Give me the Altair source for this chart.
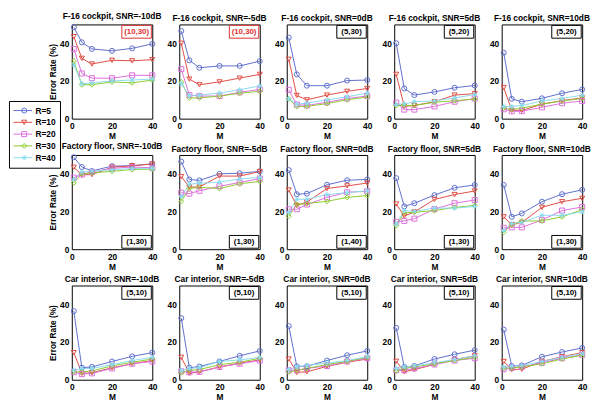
import altair as alt
import pandas as pd

FONT = "Liberation Sans"

M_VALUES = [1, 5, 10, 20, 30, 40]
R_VALUES = [5, 10, 20, 30, 40]
R_LABELS = ["R=5", "R=10", "R=20", "R=30", "R=40"]
NOISES = ["F-16 cockpit", "Factory floor", "Car interior"]
SNRS = ["SNR=-10dB", "SNR=-5dB", "SNR=0dB", "SNR=5dB", "SNR=10dB"]
COLORS = ["#5e6fcc", "#e04c44", "#dc6fdc", "#8ccc2c", "#8cdcef"]
SHAPES = ["circle", "triangle-down", "square", "diamond",
          "M0,-1L0,1M-1,0L1,0M-0.7,-0.7L0.7,0.7M-0.7,0.7L0.7,-0.7"]

BOX_TEXT = [
    ["(10,30)", "(10,30)", "(5,30)", "(5,20)", "(5,20)"],
    ["(1,30)", "(1,30)", "(1,40)", "(1,30)", "(1,30)"],
    ["(5,10)", "(5,10)", "(5,10)", "(5,10)", "(5,10)"],
]
BOX_RED = [
    [True, True, False, False, False],
    [False, False, False, False, False],
    [False, False, False, False, False],
]

# ---- error rates (%), rows = R=5,10,20,30,40 ; columns = M values ----
f16_m10 = [[48.5, 40.5, 37.0, 36.0, 37.3, 39.7],
           [43.5, 32.0, 29.0, 31.0, 30.7, 31.3],
           [37.0, 24.0, 21.5, 21.5, 23.0, 23.0],
           [30.5, 18.0, 18.0, 19.5, 19.0, 20.5],
           [28.5, 18.5, 19.0, 20.0, 20.5, 21.0]]
f16_m5 = [[46.5, 31.0, 27.0, 28.0, 28.0, 30.5],
          [40.0, 21.0, 18.0, 19.5, 21.5, 23.5],
          [26.3, 12.5, 12.0, 12.0, 14.0, 15.5],
          [19.5, 11.0, 11.0, 12.0, 13.5, 14.5],
          [18.5, 12.3, 12.5, 13.6, 15.3, 17.4]]
f16_0 = [[43.0, 23.5, 17.5, 17.5, 20.2, 20.5],
         [31.5, 12.3, 10.0, 12.5, 14.5, 16.0],
         [15.3, 7.5, 7.0, 8.7, 10.7, 12.0],
         [10.5, 6.5, 6.5, 8.0, 10.0, 11.5],
         [10.5, 7.7, 8.2, 10.0, 11.6, 13.6]]
f16_5 = [[40.0, 16.0, 12.5, 14.2, 16.4, 17.6],
         [23.5, 6.5, 7.0, 9.0, 12.5, 13.3],
         [8.5, 4.8, 4.8, 6.5, 9.0, 10.7],
         [7.0, 7.0, 7.0, 8.7, 9.5, 10.4],
         [7.5, 7.8, 9.0, 9.4, 11.0, 12.8]]
f16_10 = [[35.0, 10.5, 9.0, 10.8, 13.5, 15.5],
          [16.5, 4.4, 4.3, 7.7, 9.6, 11.0],
          [5.0, 3.9, 4.0, 6.0, 8.2, 9.4],
          [5.6, 4.8, 5.6, 7.7, 9.4, 10.7],
          [6.5, 6.5, 7.0, 9.4, 10.7, 12.5]]

fac_m10 = [[48.8, 43.6, 41.5, 44.1, 44.3, 45.3],
           [43.5, 39.5, 39.6, 43.5, 44.3, 45.2],
           [38.0, 39.6, 41.0, 42.9, 43.6, 43.2],
           [35.3, 40.1, 40.5, 41.3, 42.3, 42.5],
           [37.1, 40.8, 41.5, 42.1, 42.8, 42.9]]
fac_m5 = [[46.5, 37.0, 36.5, 40.0, 40.3, 41.3],
          [38.5, 33.0, 33.0, 38.8, 38.8, 41.2],
          [30.0, 29.5, 31.0, 33.4, 35.4, 37.5],
          [25.4, 32.3, 32.8, 32.2, 34.7, 36.0],
          [28.0, 34.5, 35.0, 35.6, 37.3, 38.1]]
fac_0 = [[42.0, 29.2, 29.5, 34.2, 36.6, 37.0],
         [31.4, 23.2, 25.0, 32.2, 33.6, 35.1],
         [21.2, 21.2, 23.7, 27.5, 30.2, 30.8],
         [17.5, 23.7, 24.2, 25.4, 27.5, 28.5],
         [19.5, 26.5, 26.5, 29.0, 30.0, 31.0]]
fac_5 = [[37.7, 22.7, 24.4, 28.7, 32.6, 34.1],
         [24.0, 17.6, 19.8, 26.4, 29.0, 30.9],
         [14.5, 15.0, 16.2, 21.3, 24.4, 26.1],
         [12.5, 19.3, 19.6, 20.5, 22.2, 23.2],
         [13.3, 20.5, 20.1, 21.8, 21.8, 22.7]]
fac_10 = [[34.1, 17.2, 19.0, 25.2, 29.2, 31.5],
          [17.2, 13.0, 14.2, 22.2, 25.2, 27.0],
          [11.3, 11.6, 11.6, 15.5, 20.5, 22.4],
          [9.0, 13.0, 15.0, 15.0, 17.2, 21.0],
          [9.9, 13.7, 14.2, 18.0, 18.0, 19.8]]

car_m10 = [[36.4, 6.4, 6.8, 9.7, 12.4, 14.4],
           [14.4, 3.4, 3.7, 6.3, 8.5, 10.2],
           [4.0, 3.0, 3.4, 6.0, 8.5, 9.7],
           [4.2, 4.2, 4.7, 7.3, 9.3, 11.0],
           [5.1, 6.0, 6.0, 8.0, 10.2, 11.9]]
car_m5 = [[32.7, 6.4, 7.0, 9.7, 12.7, 15.3],
          [11.9, 3.4, 4.2, 6.8, 8.8, 10.5],
          [4.5, 4.0, 4.2, 6.8, 8.5, 10.2],
          [3.7, 5.0, 5.4, 8.0, 9.3, 11.4],
          [5.0, 6.0, 6.4, 9.7, 10.5, 11.9]]
car_0 = [[28.5, 7.1, 7.1, 10.2, 13.0, 15.3],
         [11.0, 3.9, 4.2, 7.1, 9.3, 11.0],
         [5.0, 5.0, 6.0, 7.3, 9.7, 11.4],
         [4.2, 5.0, 6.0, 8.1, 9.8, 11.9],
         [5.4, 6.8, 7.6, 8.8, 10.2, 12.2]]
car_5 = [[27.5, 6.8, 7.3, 11.0, 13.5, 15.7],
         [9.8, 4.2, 5.4, 8.1, 10.7, 12.7],
         [5.0, 5.0, 6.0, 8.1, 10.2, 11.4],
         [4.7, 6.0, 6.8, 8.5, 10.2, 11.9],
         [6.0, 6.8, 7.3, 9.0, 10.7, 12.7]]
car_10 = [[26.6, 7.3, 7.6, 12.2, 14.7, 16.9],
          [9.7, 5.4, 5.6, 9.7, 12.2, 14.4],
          [5.6, 6.3, 6.8, 9.0, 11.4, 13.2],
          [6.0, 6.3, 6.8, 8.5, 11.0, 13.0],
          [6.8, 7.1, 7.6, 9.7, 11.9, 13.9]]

ERR = [
    [f16_m10, f16_m5, f16_0, f16_5, f16_10],
    [fac_m10, fac_m5, fac_0, fac_5, fac_10],
    [car_m10, car_m5, car_0, car_5, car_10],
]

W, H = 82, 96
LEG_X, LEG_Y = -64, 78

line_legend = alt.Legend(
    orient="none", legendX=LEG_X, legendY=LEG_Y, title=None,
    symbolType="stroke", symbolSize=361, symbolStrokeWidth=1,
    labelExpr="'R=' + datum.label", labelFont=FONT, labelFontSize=8.5,
    labelFontWeight="bold", labelColor="black", labelOffset=3,
    clipHeight=11.5, rowPadding=0, strokeColor="black", padding=4,
)
shape_legend = alt.Legend(
    orient="none", legendX=LEG_X + 4 + 6.5, legendY=LEG_Y + 4, title=None,
    symbolSize=26, symbolStrokeWidth=1, labelExpr="''",
    clipHeight=11.5, rowPadding=0, padding=0,
)


def make_panel(ni, si):
    rows = []
    for r, lab, vals in zip(R_VALUES, R_LABELS, ERR[ni][si]):
        for m, v in zip(M_VALUES, vals):
            rows.append({"R": lab, "Rn": r, "M": m, "err": v})
    df = pd.DataFrame(rows)
    base = alt.Chart(df)
    x_enc = alt.X("M:Q", scale=alt.Scale(domain=[0, 40], nice=False),
                  axis=alt.Axis(values=[0, 20, 40], title="M", labelFlush=False))
    y_axis = alt.Axis(values=[0, 10, 20, 30, 40, 50],
                      title="Error Rate (%)" if si == 0 else None)
    y_enc = alt.Y("err:Q", scale=alt.Scale(domain=[0, 50], nice=False), axis=y_axis)
    line = base.mark_line(strokeWidth=1).encode(
        x=x_enc, y=y_enc,
        color=alt.Color("Rn:N", scale=alt.Scale(domain=R_VALUES, range=COLORS),
                        legend=line_legend),
    )
    pts = base.mark_point(filled=False, size=26, strokeWidth=1, opacity=1).encode(
        x="M:Q", y="err:Q",
        stroke=alt.Stroke("R:N", scale=alt.Scale(domain=R_LABELS, range=COLORS),
                          legend=shape_legend),
        shape=alt.Shape("R:N", scale=alt.Scale(domain=R_LABELS, range=SHAPES),
                        legend=shape_legend),
    )
    col = "#e03030" if BOX_RED[ni][si] else "black"
    ann_df = pd.DataFrame({"t": [BOX_TEXT[ni][si]]})
    if ni == 1:
        y0, y1 = H - 14, H - 1
    else:
        y0, y1 = 1, 14
    box = alt.Chart(ann_df).mark_rect(fill="white", stroke=col, strokeWidth=1).encode(
        x=alt.value(W - 31), x2=alt.value(W - 1), y=alt.value(y0), y2=alt.value(y1))
    txt = alt.Chart(ann_df).mark_text(font=FONT, fontSize=8, fontWeight="bold",
                                      color=col, align="center", baseline="middle").encode(
        x=alt.value(W - 16), y=alt.value((y0 + y1) / 2 + 0.5), text="t:N")
    title = alt.TitleParams(f"{NOISES[ni]}, {SNRS[si]}", font=FONT, fontSize=8.5,
                            fontWeight="bold", color="black", offset=2)
    return alt.layer(line, pts, box, txt).properties(width=W, height=H, title=title)


panels = [make_panel(ni, si) for ni in range(3) for si in range(5)]

chart = alt.concat(*panels, columns=5, spacing={"row": 37, "column": 27.5},
                   bounds="flush").properties(
    padding={"left": 0, "top": 0, "right": 0, "bottom": 0}
).configure_view(
    stroke="black", strokeWidth=1
).configure_axis(
    labelFont=FONT, labelFontSize=8.5, labelFontWeight="bold", labelColor="black",
    titleFont=FONT, titleFontSize=8.5, titleFontWeight="bold", titleColor="black",
    ticks=False, domain=False, grid=False, labelPadding=3, titlePadding=2,
)

chart.save("out.html", embed_options={"renderer": "svg", "actions": False})
